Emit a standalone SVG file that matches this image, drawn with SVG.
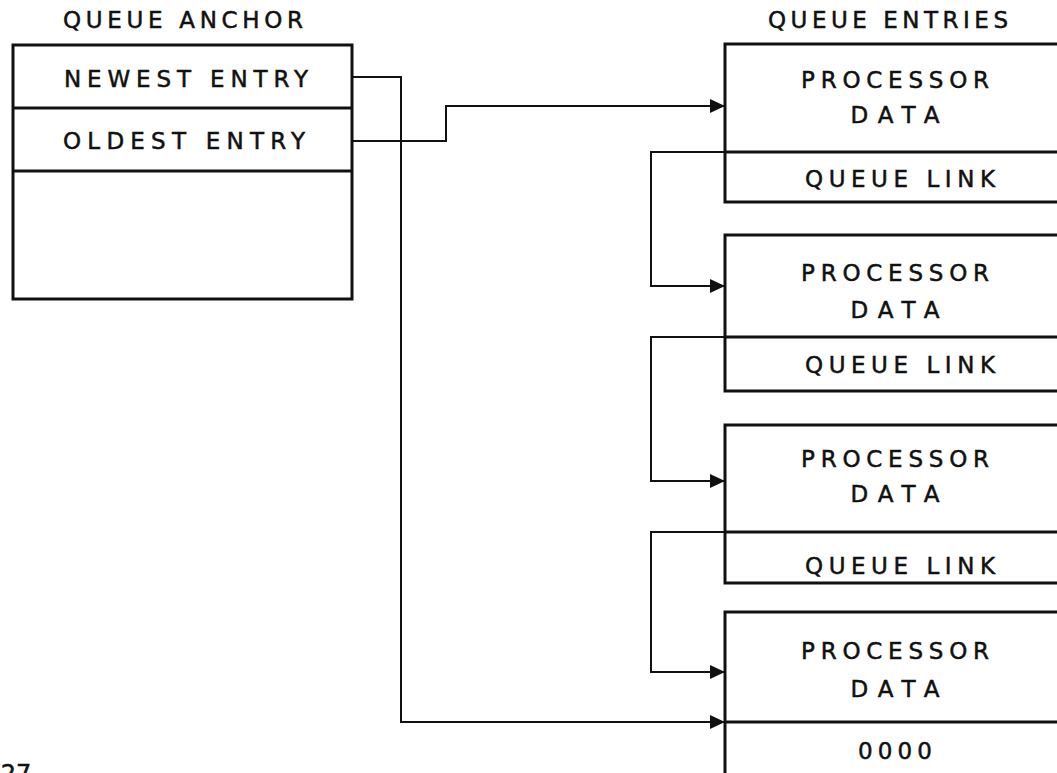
<svg xmlns="http://www.w3.org/2000/svg" width="1057" height="773" viewBox="0 0 1057 773">
<style>
.box{fill:none;stroke:#111;stroke-width:3}
.div{stroke:#111;stroke-width:3}
.con{fill:none;stroke:#111;stroke-width:2}
text{font-family:"DejaVu Sans","Liberation Sans",sans-serif;font-size:23px;fill:#111;stroke:#111;stroke-width:0.5;text-anchor:middle}
</style>
<defs>
<marker id="ah" markerWidth="15" markerHeight="14" refX="14" refY="7" orient="auto" markerUnits="userSpaceOnUse">
<path d="M0,0 L15,7 L0,14 Z" fill="#111"/>
</marker>
</defs>
<rect width="1057" height="773" fill="#fff"/>
<g id="anchor">
<text x="183" y="28" textLength="240" lengthAdjust="spacing">QUEUE ANCHOR</text>
<rect class="box" x="13" y="45" width="339" height="254"/>
<line class="div" x1="13" y1="108" x2="352" y2="108"/>
<line class="div" x1="13" y1="171" x2="352" y2="171"/>
<text x="186" y="87" textLength="244" lengthAdjust="spacing">NEWEST ENTRY</text>
<text x="184" y="149" textLength="242" lengthAdjust="spacing">OLDEST ENTRY</text>
</g>
<g id="entries-title">
<text x="888" y="28" textLength="240" lengthAdjust="spacing">QUEUE ENTRIES</text>
</g>
<g id="entry1">
<rect class="box" x="725" y="44" width="360" height="158"/>
<line class="div" x1="725" y1="152" x2="1057" y2="152"/>
<text x="895" y="88" textLength="188" lengthAdjust="spacing">PROCESSOR</text>
<text x="895" y="123" textLength="89" lengthAdjust="spacing">DATA</text>
<text x="900" y="187" textLength="190" lengthAdjust="spacing">QUEUE LINK</text>
</g>
<g id="entry2">
<rect class="box" x="725" y="235" width="360" height="156"/>
<line class="div" x1="725" y1="337" x2="1057" y2="337"/>
<text x="895" y="281" textLength="188" lengthAdjust="spacing">PROCESSOR</text>
<text x="895" y="318" textLength="89" lengthAdjust="spacing">DATA</text>
<text x="900" y="373" textLength="190" lengthAdjust="spacing">QUEUE LINK</text>
</g>
<g id="entry3">
<rect class="box" x="725" y="425" width="360" height="158"/>
<line class="div" x1="725" y1="532" x2="1057" y2="532"/>
<text x="895" y="467" textLength="188" lengthAdjust="spacing">PROCESSOR</text>
<text x="895" y="502" textLength="89" lengthAdjust="spacing">DATA</text>
<text x="900" y="574" textLength="190" lengthAdjust="spacing">QUEUE LINK</text>
</g>
<g id="entry4">
<rect class="box" x="725" y="612" width="360" height="200"/>
<line class="div" x1="725" y1="722" x2="1057" y2="722"/>
<text x="895" y="659" textLength="188" lengthAdjust="spacing">PROCESSOR</text>
<text x="895" y="697" textLength="89" lengthAdjust="spacing">DATA</text>
<text x="895" y="759" textLength="74" lengthAdjust="spacing">0000</text>
</g>
<g id="connectors">
<polyline class="con" points="352,77 401,77 401,722 724,722" marker-end="url(#ah)"/>
<polyline class="con" points="352,141 446,141 446,106 724,106" marker-end="url(#ah)"/>
<polyline class="con" points="725,152 651,152 651,286 724,286" marker-end="url(#ah)"/>
<polyline class="con" points="725,337 651,337 651,481 724,481" marker-end="url(#ah)"/>
<polyline class="con" points="725,532 651,532 651,672 724,672" marker-end="url(#ah)"/>
</g>
<text x="16" y="782" style="font-size:24px">27</text>
</svg>
